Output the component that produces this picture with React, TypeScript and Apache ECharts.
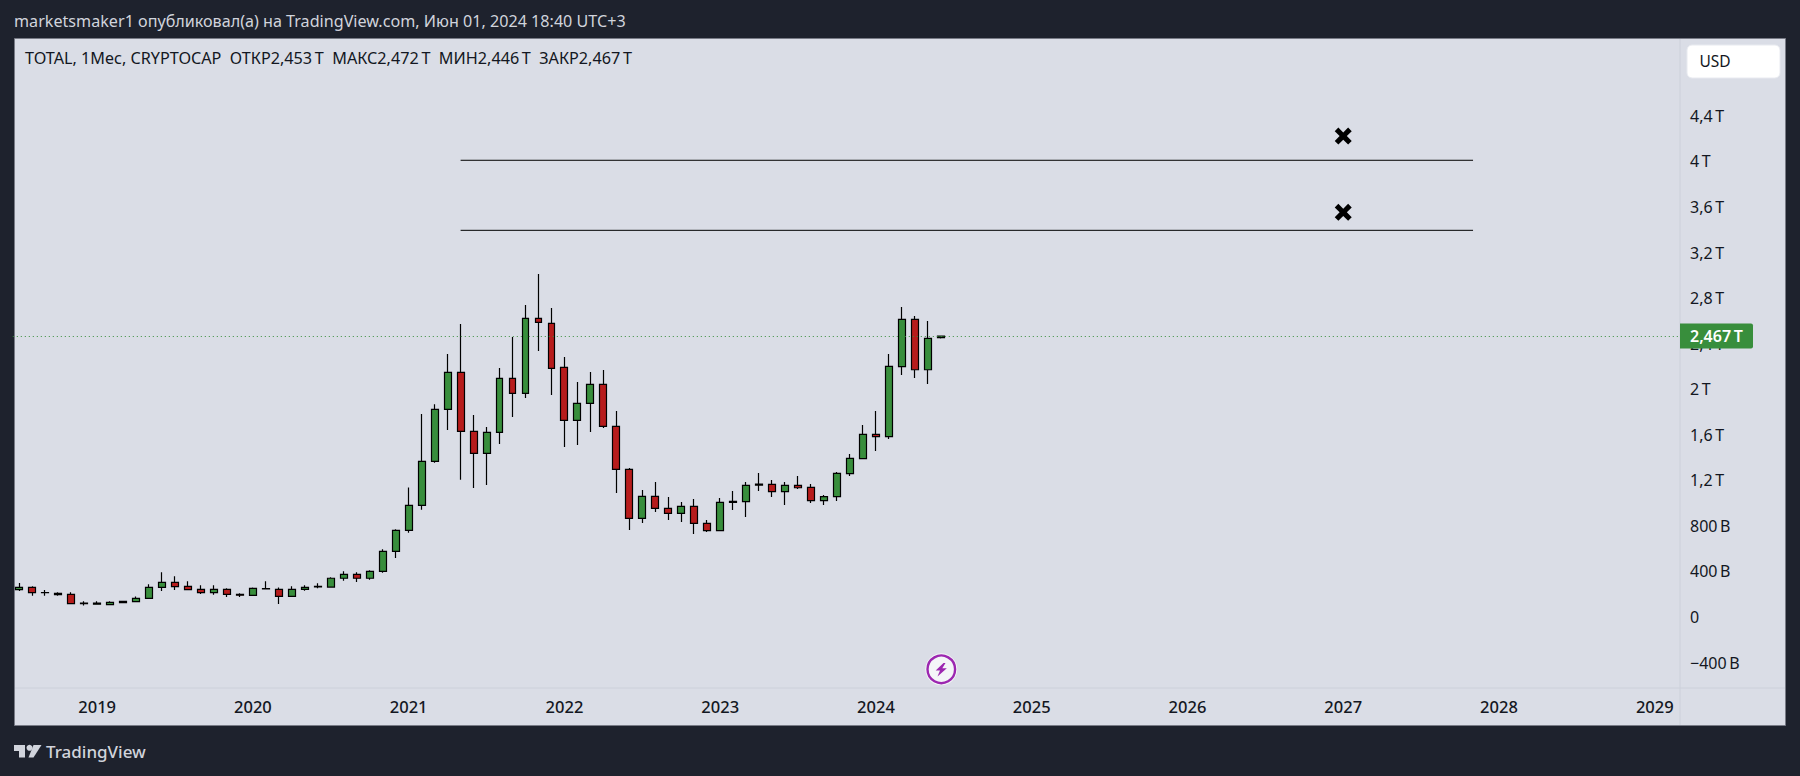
import React, { useEffect, useRef } from "react";
import * as echarts from "echarts";

const FONT = '"Noto Sans"';
const headerText = "marketsmaker1 опубликовал(а) на TradingView.com, Июн 01, 2024 18:40 UTC+3";
const legendText = "TOTAL, 1Мес, CRYPTOCAP  ОТКР2,453\u2009Т  МАКС2,472\u2009Т  МИН2,446\u2009Т  ЗАКР2,467\u2009Т";

const firstYear = 2018;
const firstMonth = 7;
const categoryCount = 129;
const categories: string[] = [];
for (let i = 0; i < categoryCount; i++) {
  const m = firstMonth - 1 + i;
  categories.push(`${firstYear + Math.floor(m / 12)}-${String((m % 12) + 1).padStart(2, "0")}`);
}

// values in billions of USD
const opens = [240,260,213,208,199,121,113,108,127,135,164,260,304,269,243,214,243,198,190,246,243,181,243,264,263,340,375,340,401,577,
  761,980,1367,1823,2148,1630,1437,1621,2095,1964,2622,2578,2192,1727,1876,2043,1674,1296,866,1059,954,910,971,822,758,1007,1013,1158,1165,1100,1156,1138,1021,1056,1258,1390,1604,1583,2198,2613,2171,2453];
const closes = [260,214,215,197,117,118,121,129,137,164,260,304,266,240,214,243,199,192,252,250,181,243,260,268,340,375,340,401,577,761,
  980,1367,1823,2148,1630,1437,1621,2095,1964,2622,2587,2183,1727,1876,2043,1674,1296,866,1059,954,910,971,822,758,1007,1016,1156,1166,1100,1156,1135,1021,1056,1261,1393,1604,1583,2201,2613,2171,2447,2467];
const highs = [299,269,237,217,217,138,138,138,141,181,287,392,357,313,278,278,252,208,260,313,260,269,278,296,348,401,392,410,594,770,
  1138,1782,1867,2309,2573,1773,1668,2186,2458,2739,3012,2713,2283,2063,2151,2169,1809,1308,1115,1185,1053,1010,1036,852,1045,1106,1185,1264,1203,1185,1238,1168,1071,1273,1431,1686,1808,2309,2722,2643,2599,2472];
const lows = [228,187,187,187,112,100,108,105,126,133,162,228,237,240,202,196,176,176,187,243,114,178,231,252,258,319,307,328,389,518,
  740,942,1355,1642,1206,1132,1159,1519,1756,1923,2335,1949,1492,1510,1624,1659,1088,764,825,922,851,834,729,746,756,939,878,1106,1054,983,1124,1001,983,1018,1238,1388,1457,1563,2125,2098,2046,2446];

const yTicks = [-400, 0, 400, 800, 1200, 1600, 2000, 2400, 2800, 3200, 3600, 4000, 4400];
const yMin = -623.4;
const yMax = 5083.6;
const lastPrice = 2467;
const lastPriceLabel = "2,467\u2009Т";
const levelValues = [4010, 3395];
const levelRange = ["2021-05", "2027-11"];
const crossMonth = "2027-01";
const crossValues = [4223, 3553];

const formatPrice = (v: number) => {
  if (v === 0) return "0";
  const sign = v < 0 ? "−" : "";
  const a = Math.abs(v);
  if (a >= 1000) return `${sign}${String(a / 1000).replace(".", ",")}\u2009Т`;
  return `${sign}${a}\u2009В`;
};

const crossPath =
  "path://M3.4 0 L8 4.6 L12.6 0 L16 3.4 L11.4 8 L16 12.6 L12.6 16 L8 11.4 L3.4 16 L0 12.6 L4.6 8 L0 3.4Z";

const panelFill = "#dadde6";
const outerFill = "#1e222d";
const sepColor = "#ccd0da";
const textDark = "#131722";
const green = "#388e3c";
const red = "#b71c1c";

export default function App() {
  const ref = useRef<HTMLDivElement>(null);
  useEffect(() => {
    const chart = echarts.init(ref.current!, undefined, { renderer: "svg" });
    const txt = (text: string, x: number, y: number, size: number, fill: string, weight = 400) => ({
      type: "text",
      x,
      y,
      z: 50,
      style: { text, fill, font: `${weight} ${size}px ${FONT}`, verticalAlign: "middle", align: "left" },
    });
    chart.setOption({
      animation: false,
      backgroundColor: outerFill,
      grid: { left: 12.8, width: 1674.4, top: 38, height: 650, containLabel: false },
      xAxis: {
        type: "category",
        data: categories,
        boundaryGap: true,
        axisLine: { show: false },
        axisTick: { show: false },
        splitLine: { show: false },
        axisLabel: {
          interval: (_: number, v: string) => v.endsWith("-01"),
          formatter: (v: string) => v.slice(0, 4),
          color: textDark,
          fontFamily: FONT,
          fontSize: 16.5,
          fontWeight: 500,
          margin: 10,
          hideOverlap: false,
        },
      },
      yAxis: {
        type: "value",
        position: "right",
        offset: -7.2,
        min: yMin,
        max: yMax,
        axisLine: { show: false },
        axisTick: { show: false },
        splitLine: { show: false },
        axisLabel: {
          customValues: yTicks,
          formatter: formatPrice,
          color: textDark,
          fontFamily: FONT,
          fontSize: 16,
          margin: 10,
          padding: [0, 0, 3, 0],
        },
      },
      series: [
        {
          type: "candlestick",
          data: opens.map((o, i) => [o, closes[i], lows[i], highs[i]]),
          barWidth: 7.4,
          itemStyle: {
            color: green,
            color0: red,
            borderColor: "#000",
            borderColor0: "#000",
            borderWidth: 1.2,
          },
          markLine: {
            silent: true,
            symbol: "none",
            data: [{ yAxis: lastPrice }],
            lineStyle: { color: green, type: [1, 3], width: 1 },
            label: {
              show: true,
              position: "end",
              distance: -7.2,
              formatter: lastPriceLabel,
              color: "#fff",
              backgroundColor: green,
              fontFamily: FONT,
              fontSize: 16,
              fontWeight: 600,
              padding: [3, 7, 3, 10],
              borderRadius: [0, 2, 2, 0],
              width: 56,
              height: 19,
              lineHeight: 19,
              align: "left",
            },
          },
        },
        ...levelValues.map((v) => ({
          type: "line",
          data: levelRange.map((c) => [c, v]),
          symbol: "none",
          lineStyle: { color: "#000", width: 1 },
        })),
        {
          type: "scatter",
          data: crossValues.map((v) => [crossMonth, v]),
          symbol: crossPath,
          symbolSize: 17,
          itemStyle: { color: "#000", opacity: 1 },
        },
      ],
      graphic: {
        elements: [
          {
            type: "rect",
            z: -10,
            shape: { x: 14.5, y: 38.5, width: 1771, height: 687 },
            style: { fill: panelFill, stroke: "#787b86", lineWidth: 1 },
          },
          { type: "line", z: -9, shape: { x1: 15, y1: 688, x2: 1785, y2: 688 }, style: { stroke: sepColor, lineWidth: 1 } },
          { type: "line", z: -9, shape: { x1: 1680, y1: 39, x2: 1680, y2: 725 }, style: { stroke: sepColor, lineWidth: 1 } },
          txt(headerText, 14, 20.5, 16.15, "#d1d4dc"),
          txt(legendText, 25, 57.5, 16.2, textDark),
          {
            type: "rect",
            z: 40,
            shape: { x: 1687, y: 45, width: 93, height: 33, r: 5 },
            style: { fill: "#fff", stroke: "#e8eaf0", lineWidth: 1 },
          },
          txt("USD", 1699.5, 60.5, 15.5, textDark),
          { type: "circle", z: 40, shape: { cx: 941.3, cy: 669.3, r: 16 }, style: { fill: "#f4f5f8" } },
          { type: "circle", z: 41, shape: { cx: 941.3, cy: 669.3, r: 13.8 }, style: { fill: "#f4f5f8", stroke: "#9c27b0", lineWidth: 2.4 } },
          {
            type: "polygon",
            z: 42,
            shape: { points: [[943.5, 663], [935.7, 670.5], [940, 670.5], [937.5, 676.5], [946.8, 668.3], [942.3, 668.3], [945.5, 663]] },
            style: { fill: "#9c27b0" },
          },
          { type: "polygon", z: 42, shape: { points: [[14, 745], [25, 745], [25, 757.5], [19, 757.5], [19, 751], [14, 751]] }, style: { fill: "#d1d4dc" } },
          { type: "circle", z: 42, shape: { cx: 29.5, cy: 747.8, r: 3 }, style: { fill: "#d1d4dc" } },
          { type: "polygon", z: 42, shape: { points: [[33.5, 745], [41.5, 745], [33.5, 757.5], [28.5, 757.5]] }, style: { fill: "#d1d4dc" } },
          txt("TradingView", 46, 751.5, 17, "#d1d4dc", 500),
        ],
      },
    });
    return () => chart.dispose();
  }, []);
  return <div ref={ref} style={{ position: "absolute", left: 0, top: 0, width: 1800, height: 776 }} />;
}
